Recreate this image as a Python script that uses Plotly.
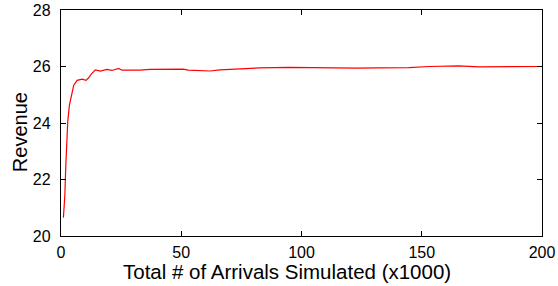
import plotly.graph_objects as go

arrivals_k = [1, 1.6, 2, 2.3, 2.8, 3.5, 4.6, 5.3, 6.7, 8.8, 10.4, 11.5, 12.5, 14.3, 16.4,
              18.4, 19.1, 21.2, 24, 25.3, 28.8, 32.9, 37, 44, 50.8, 52.9, 57.8, 62, 66,
              71.5, 78.5, 82.6, 95, 102, 115.7, 122.7, 132, 140.5, 144.7, 153, 165.4,
              173.7, 182, 194.4, 200]
revenue = [20.65, 21.44, 22.5, 23.33, 24.04, 24.63, 25.1, 25.34, 25.51, 25.55, 25.51,
           25.6, 25.72, 25.88, 25.84, 25.88, 25.9, 25.86, 25.93, 25.87, 25.87, 25.87,
           25.9, 25.91, 25.91, 25.87, 25.86, 25.84, 25.88, 25.91, 25.94, 25.95, 25.97,
           25.96, 25.96, 25.94, 25.95, 25.96, 25.96, 26.0, 26.02, 25.99, 26.0, 26.02, 26.0]

x_ticks = [0, 50, 100, 150, 200]
y_ticks = [20, 22, 24, 26, 28]

FONT = "Liberation Sans, Arial, sans-serif"

fig = go.Figure()
fig.add_trace(go.Scatter(x=arrivals_k, y=revenue, mode="lines",
                         line=dict(color="#ff0000", width=1.2), showlegend=False))

axis_common = dict(showgrid=False, zeroline=False, showline=True, linecolor="black",
                   linewidth=1.3, mirror="ticks", ticks="inside", ticklen=5,
                   tickcolor="black", tickwidth=1, automargin=False,
                   tickfont=dict(family=FONT, size=16, color="black"))

fig.update_xaxes(range=[0, 200], tickvals=x_ticks, ticklabelstandoff=2, **axis_common)
fig.update_yaxes(range=[20, 28], tickvals=y_ticks, ticklabelstandoff=6, **axis_common)

fig.add_annotation(text="Total # of Arrivals Simulated (x1000)", xref="paper", yref="paper",
                   x=0.469, y=-0.155, xanchor="center", yanchor="middle", showarrow=False,
                   font=dict(family=FONT, size=20.5, color="black"))
fig.add_annotation(text="Revenue", xref="paper", yref="paper", textangle=-90,
                   x=-0.085, y=0.46, xanchor="center", yanchor="middle", showarrow=False,
                   font=dict(family=FONT, size=20, color="black"))

fig.update_layout(width=558, height=286, margin=dict(l=61, r=16, t=10, b=50, autoexpand=False),
                  paper_bgcolor="white", plot_bgcolor="white", autosize=False)

fig.write_html("out.html", config={"responsive": False, "displayModeBar": False},
               post_script="document.body.style.margin='0';document.body.style.overflow='hidden';")
